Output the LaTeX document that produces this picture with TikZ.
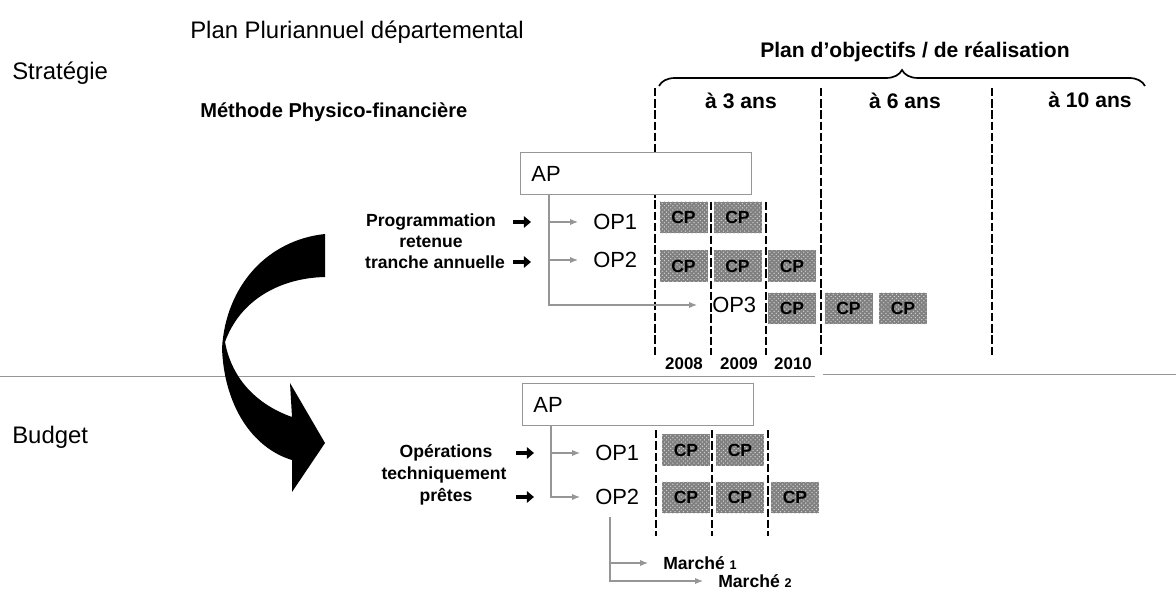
\documentclass[tikz,border=0pt]{standalone}
\usepackage{fontspec}
\setmainfont{Liberation Sans}
\usetikzlibrary{arrows.meta, decorations.pathreplacing, calc, patterns}
\definecolor{CpGray}{RGB}{128, 128, 128}
\definecolor{LinkGray}{RGB}{150, 150, 150}

\begin{document}
\begin{tikzpicture}[x=0.025cm, y=-0.025cm,
    txt/.style={inner sep=0pt},
    bigtxt/.style={txt, font=\fontsize{17}{20}\selectfont},
    boldtxt/.style={txt, font=\fontsize{12.5}{15}\selectfont\bfseries},
    headtxt/.style={txt, font=\fontsize{15}{18}\selectfont\bfseries},
    yeartxt/.style={txt, font=\fontsize{12}{14}\selectfont\bfseries},
    apbox/.style={draw=LinkGray, fill=white, line width=0.8pt, anchor=north west,
      minimum width=5.78cm, minimum height=1.05cm, text width=5.24cm, inner xsep=0.27cm,
      align=left, font=\fontsize{15.6}{18}\selectfont},
    oplabel/.style={anchor=west, inner xsep=0.375cm, inner ysep=0pt, font=\fontsize{15.6}{18}\selectfont},
    cpbox/.style={fill=CpGray, minimum width=1.2cm, minimum height=0.78cm, inner sep=0pt,
      postaction={pattern=crosshatch dots, pattern color=gray!35},
      font=\fontsize{12.5}{14}\selectfont\bfseries},
    link/.style={draw=LinkGray, line width=0.9pt, -{Latex[length=2mm, width=1.6mm]}},
    blkarrow/.style={line width=2.6pt, -{Triangle[length=5pt, width=8pt]}},
    colline/.style={dash pattern=on 6pt off 2pt, line width=0.8pt}]
  \useasboundingbox (0,0) rectangle (1176,596);

  % titles
  \node[bigtxt, anchor=west] (titre) at (190,32) {Plan Pluriannuel départemental};
  \node[bigtxt, anchor=west] (strat) at (12,73) {Stratégie};
  \node[bigtxt, anchor=west] (budget) at (12,437) {Budget};
  \node[txt, anchor=west, font=\fontsize{14.3}{17}\selectfont\bfseries] (methode) at (200,112) {Méthode Physico-financière};

  % horizon of the plan
  \node[headtxt] (plan) at (915,52) {Plan d'objectifs / de réalisation};
  \draw[line width=1.2pt, decorate, decoration={brace, amplitude=0.4cm}] (659,86) -- (1145,86);
  \node[headtxt] (ans3) at (741,101) {à 3 ans};
  \node[headtxt] (ans6) at (905,101) {à 6 ans};
  \node[headtxt] (ans10) at (1090,100) {à 10 ans};

  % column lines
  \draw[colline] (655,88) -- (655,355);
  \draw[colline] (711,202) -- (711,355);
  \draw[colline] (766,202) -- (766,355);
  \draw[colline] (821,88) -- (821,357);
  \draw[colline] (992,88) -- (992,357);
  \draw[colline] (656,430) -- (656,536);
  \draw[colline] (712,430) -- (712,536);
  \draw[colline] (768,430) -- (768,536);

  % separation
  \draw[LinkGray, line width=0.6pt] (0,376) -- (815,376);
  \draw[LinkGray, line width=0.6pt] (823,374) -- (1176,374);

  % big turning arrow
  \fill[black] (325,234) .. controls (268,240) and (226,285) .. (222,348)
    .. controls (224,405) and (252,448) .. (292,460) -- (292,492) -- (325,443) -- (290,383) -- (292,417)
    .. controls (258,405) and (232,380) .. (225,342)
    .. controls (240,300) and (280,278) .. (325,277) -- cycle;

  % strategie part
  \node[apbox] (ap) at (520,152) {AP};
  \node[oplabel] (op1) at (578,222) {OP1};
  \node[oplabel] (op2) at (578,260) {OP2};
  \node[oplabel] (op3) at (697,305) {OP3};
  \coordinate (trunk) at (549,194);
  \draw[link] (trunk) |- (op3.west);
  \draw[link] (trunk |- op1.west) -- (op1.west);
  \draw[link] (trunk |- op2.west) -- (op2.west);

  \node[boldtxt] (prog) at (431,222) {Programmation};
  \node[boldtxt] (ret) at (431,242) {retenue};
  \node[boldtxt] (tranche) at (435,262) {tranche annuelle};
  \coordinate (pa1) at (513,222);
  \coordinate (pa2) at (513,262);
  \draw[blkarrow] (pa1) -- ++(18,0);
  \draw[blkarrow] (pa2) -- ++(18,0);

  \node[cpbox] (cp11) at (683.5,217.5) {CP};
  \node[cpbox] (cp12) at (737.5,217.5) {CP};
  \node[cpbox] (cp21) at (683.5,266) {CP};
  \node[cpbox] (cp22) at (737.5,266) {CP};
  \node[cpbox] (cp23) at (792,266) {CP};
  \node[cpbox] (cp31) at (792,308.5) {CP};
  \node[cpbox] (cp32) at (848.5,308.5) {CP};
  \node[cpbox] (cp33) at (903,308.5) {CP};

  \node[yeartxt] (y2008) at (684,364) {2008};
  \node[yeartxt] (y2009) at (739,364) {2009};
  \node[yeartxt] (y2010) at (793,364) {2010};

  % budget part
  \node[apbox] (apb) at (522,383) {AP};
  \node[oplabel] (op1b) at (580,453) {OP1};
  \node[oplabel] (op2b) at (580,497) {OP2};
  \coordinate (trunkb) at (551,425);
  \draw[link] (trunkb) |- (op2b.west);
  \draw[link] (trunkb |- op1b.west) -- (op1b.west);

  \node[boldtxt] (oper) at (446,453) {Opérations};
  \node[boldtxt] (tech) at (444,475) {techniquement};
  \node[boldtxt] (pretes) at (446,497) {prêtes};
  \coordinate (pb1) at (516,453);
  \coordinate (pb2) at (516,497);
  \draw[blkarrow] (pb1) -- ++(18,0);
  \draw[blkarrow] (pb2) -- ++(18,0);

  \node[cpbox] (cpb11) at (686,450) {CP};
  \node[cpbox] (cpb12) at (740,450) {CP};
  \node[cpbox] (cpb21) at (686,497.5) {CP};
  \node[cpbox] (cpb22) at (740,497.5) {CP};
  \node[cpbox] (cpb23) at (795,497.5) {CP};

  \node[oplabel, font=\fontsize{12.5}{15}\selectfont\bfseries] (m1) at (648,563) {Marché {\fontsize{9}{10}\selectfont 1}};
  \node[oplabel, font=\fontsize{12.5}{15}\selectfont\bfseries] (m2) at (703,581) {Marché {\fontsize{9}{10}\selectfont 2}};
  \coordinate (mtrunk) at (610,517);
  \draw[link] (mtrunk) |- (m2.west);
  \draw[link] (mtrunk |- m1.west) -- (m1.west);
\end{tikzpicture}
\end{document}
